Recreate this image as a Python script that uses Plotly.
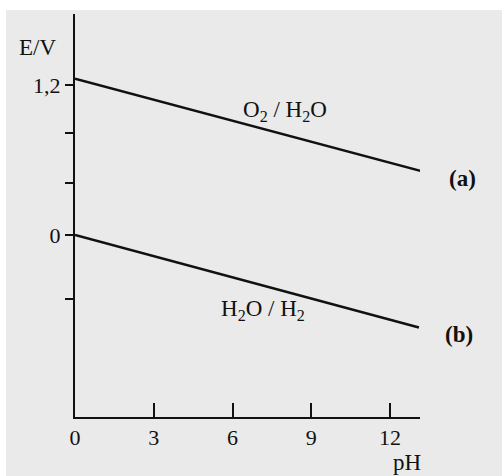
import plotly.graph_objects as go

# Data
ph_a = [0, 13.2]
e_a = [1.25, 0.51]
ph_b = [0, 13.1]
e_b = [0.0, -0.74]

x_tickvals = [0, 3, 6, 9, 12]
x_ticktext = ["0", "3", "6", "9", "12"]
y_tickvals = [1.2, 0.82, 0.42, 0.0, -0.51]
y_ticktext = ["1,2", "", "", "0", ""]

FONT = "Liberation Serif"
BG = "#eaeaea"
INK = "#111111"

fig = go.Figure()
fig.add_trace(go.Scatter(x=ph_a, y=e_a, mode="lines",
                         line=dict(color=INK, width=2.5), showlegend=False))
fig.add_trace(go.Scatter(x=ph_b, y=e_b, mode="lines",
                         line=dict(color=INK, width=2.5), showlegend=False))

fig.add_shape(type="rect", xref="paper", yref="paper",
              x0=-0.2, x1=1.24, y0=-0.15, y1=1.0099,
              fillcolor=BG, line=dict(width=0), layer="below")

ann = dict(showarrow=False, xanchor="center", yanchor="middle",
           font=dict(family=FONT, size=23, color=INK))
fig.add_annotation(xref="paper", yref="paper", x=-0.11, y=0.918, text="E/V", **ann)
fig.add_annotation(xref="paper", yref="paper", x=0.962, y=-0.113, text="pH", **ann)
fig.add_annotation(x=8.0, y=0.99, text="O<sub>2</sub> / H<sub>2</sub>O", **ann)
fig.add_annotation(x=7.16, y=-0.6, text="H<sub>2</sub>O / H<sub>2</sub>", **ann)
fig.add_annotation(xref="paper", yref="paper", x=1.1246, y=0.593, text="<b>(a)</b>", **ann)
fig.add_annotation(xref="paper", yref="paper", x=1.113, y=0.2035, text="<b>(b)</b>", **ann)

fig.update_layout(
    width=502, height=476,
    margin=dict(l=75, r=82, t=14, b=59),
    paper_bgcolor="white",
    plot_bgcolor="rgba(0,0,0,0)",
    font=dict(family=FONT, size=22, color=INK),
    xaxis=dict(range=[0, 13.14], showgrid=False, zeroline=False,
               showline=True, linewidth=2, linecolor=INK,
               ticks="inside", ticklen=14, tickwidth=2, tickcolor=INK,
               tickvals=x_tickvals, ticktext=x_ticktext),
    yaxis=dict(range=[-1.456, 1.768], showgrid=False, zeroline=False,
               showline=True, linewidth=2, linecolor=INK,
               ticks="outside", ticklen=8, tickwidth=2, tickcolor=INK,
               tickvals=y_tickvals, ticktext=y_ticktext),
)

fig.write_html("out.html")
